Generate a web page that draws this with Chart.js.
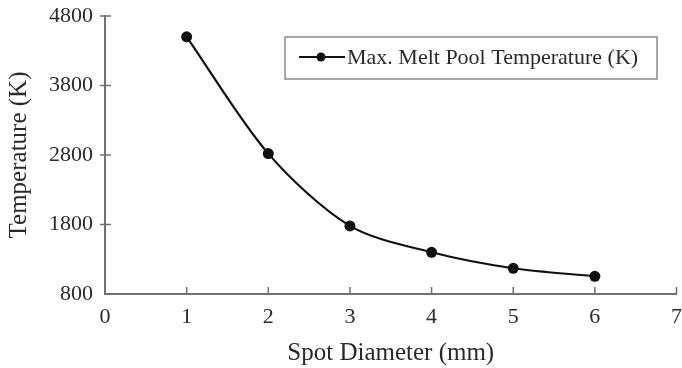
<!DOCTYPE html>
<html><head><meta charset="utf-8">
<script src="https://cdn.jsdelivr.net/npm/chart.js@4.4.1/dist/chart.umd.min.js"></script>
<style>html,body{margin:0;padding:0;background:#fff}#wrap{width:682px;height:368px}</style>
</head><body><div id="wrap"><canvas id="c" width="682" height="368"></canvas></div>
<script>
const diameters = [1, 2, 3, 4, 5, 6];
const temps = [4500, 2820, 1780, 1400, 1170, 1055];
const yTicks = [800, 1800, 2800, 3800, 4800];
const xTicks = [0, 1, 2, 3, 4, 5, 6, 7];
const seriesLabel = 'Max. Melt Pool Temperature (K)';
const xTitle = 'Spot Diameter (mm)';
const yTitle = 'Temperature (K)';

const FONT = "'Liberation Serif', 'Times New Roman', serif";
const AXIS = '#707070';
const TEXT = '#2a2a2a';

const tickMarks = {
  id: 'tickMarks',
  afterDatasetsDraw(chart) {
    const ctx = chart.ctx, xs = chart.scales.x, ys = chart.scales.y;
    const x0 = xs.getPixelForValue(0), yb = ys.getPixelForValue(yTicks[0]);
    ctx.save();
    ctx.strokeStyle = AXIS; ctx.lineWidth = 1.5;
    ctx.beginPath();
    yTicks.slice(1).forEach(v => { const y = ys.getPixelForValue(v); ctx.moveTo(x0 - 5, y); ctx.lineTo(x0 + 6, y); });
    xTicks.slice(1).forEach(v => { const x = xs.getPixelForValue(v); ctx.moveTo(x, yb); ctx.lineTo(x, yb - 7); });
    ctx.stroke();
    ctx.restore();
  }
};

const boxLegend = {
  id: 'boxLegend',
  afterDraw(chart) {
    const ctx = chart.ctx;
    const label = chart.data.datasets[0].label;
    ctx.save();
    ctx.strokeStyle = '#8a8a8a'; ctx.lineWidth = 1.5;
    ctx.strokeRect(285, 37, 372, 42);
    ctx.strokeStyle = '#111'; ctx.lineWidth = 2.2;
    ctx.beginPath(); ctx.moveTo(299, 57); ctx.lineTo(345, 57); ctx.stroke();
    ctx.fillStyle = '#111';
    ctx.beginPath(); ctx.arc(321, 57, 4.5, 0, Math.PI * 2); ctx.fill();
    ctx.fillStyle = TEXT;
    ctx.font = "22px " + FONT;
    ctx.textBaseline = 'middle';
    ctx.fillText(label, 347, 58);
    ctx.restore();
  }
};

new Chart(document.getElementById('c'), {
  type: 'line',
  data: {
    datasets: [{
      label: seriesLabel,
      data: diameters.map((d, i) => ({ x: d, y: temps[i] })),
      borderColor: '#111',
      backgroundColor: '#111',
      borderWidth: 2.2,
      pointRadius: 5.5,
      pointBackgroundColor: '#111',
      pointBorderWidth: 0,
      tension: 0.3,
      fill: false
    }]
  },
  options: {
    responsive: false,
    animation: false,
    devicePixelRatio: 1,
    layout: { padding: { left: 0, top: 16, right: 3, bottom: 0 } },
    plugins: { legend: { display: false }, tooltip: { enabled: false } },
    scales: {
      x: {
        type: 'linear', min: 0, max: 7,
        afterBuildTicks: s => { s.ticks = xTicks.map(v => ({ value: v })); },
        afterFit: s => { s.height = 74; s.paddingLeft = 0; s.paddingRight = 0; },
        grid: { display: false, drawTicks: false },
        border: { display: true, color: AXIS, width: 2 },
        ticks: { color: TEXT, font: { family: FONT, size: 22 }, padding: 10, maxRotation: 0, autoSkip: false, callback: v => String(v) },
        title: { display: true, text: xTitle, color: TEXT, font: { family: FONT, size: 25 }, padding: { top: 4, bottom: 0 } }
      },
      y: {
        type: 'linear', min: 800, max: 4800,
        afterBuildTicks: s => { s.ticks = yTicks.map(v => ({ value: v })); },
        afterFit: s => { s.width = 105; s.paddingTop = 0; s.paddingBottom = 0; },
        grid: { display: false, drawTicks: false },
        border: { display: true, color: AXIS, width: 2 },
        ticks: { color: TEXT, font: { family: FONT, size: 22 }, padding: 12, callback: v => String(v) },
        title: { display: true, text: yTitle, color: TEXT, font: { family: FONT, size: 25 }, padding: { top: 4, bottom: 0 } }
      }
    }
  },
  plugins: [tickMarks, boxLegend]
});
</script>
</body></html>
